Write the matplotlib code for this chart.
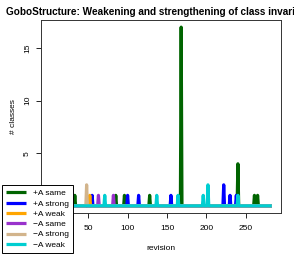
import numpy as np
import matplotlib
matplotlib.use("Agg")
import matplotlib.pyplot as plt

plt.rcParams['font.family'] = ['Liberation Sans', 'DejaVu Sans']

# revisions 1..283, most counts are zero; spikes listed as (revision, count)
n_revisions = 283
revisions = np.arange(1, n_revisions + 1)

plus_same = [(33, 1), (85, 1), (96, 1), (128, 1), (168, 17), (240, 4), (261, 1), (265, 1)]
plus_strong = [(55, 1), (100, 1), (114, 1), (155, 1), (222, 2), (230, 1), (238, 1)]
plus_weak = [(52, 1)]
minus_same = [(63, 1), (82, 1)]
minus_strong = [(48, 2)]
minus_weak = [(71, 1), (137, 1), (164, 1), (196, 1), (202, 2), (240, 1)]

labels = ["+A same", "+A strong", "+A weak", "\u2212A same", "\u2212A strong", "\u2212A weak"]
colors = ["#006400", "#0000FF", "#FFA500", "#9932CC", "#D2B48C", "#00CED1"]


def counts(spikes):
    y = np.zeros(n_revisions)
    for r, v in spikes:
        y[r - 1] = v
    return y


series = [plus_same, plus_strong, plus_weak, minus_same, minus_strong, minus_weak]

fig = plt.figure(figsize=(2.94, 2.54), dpi=100)
ax = fig.add_axes([0.1384, 0.1614, 0.8163, 0.7598])

for sp, lab, col in zip(series, labels, colors):
    ax.plot(revisions, counts(sp), color=col, lw=2.3, label=lab,
            solid_joinstyle='round', solid_capstyle='butt')

ax.set_xlim(-10.3, 294.3)
ax.set_ylim(-0.68, 17.68)
ax.set_xticks([50, 100, 150, 200, 250])
ax.set_yticks([5, 10, 15])
ax.tick_params(labelsize=6, length=3.6, width=0.6)
ax.tick_params(axis='x', pad=5)
ax.tick_params(axis='y', pad=6, labelrotation=90)
plt.setp(ax.get_yticklabels(), va='center', ha='center')
for s in ax.spines.values():
    s.set_linewidth(0.7)
    s.set_color('#333333')

ax.set_xlabel("revision", fontsize=6)
ax.set_ylabel("# classes", fontsize=6)
ax.xaxis.set_label_coords(0.5, -0.165)
ax.yaxis.set_label_coords(-0.10, 0.5)

fig.text(0.5466, 0.952, "GoboStructure: Weakening and strengthening of class invariants",
         ha='center', va='center', fontsize=7.2, fontweight='bold')

leg = fig.legend(loc='lower left', bbox_to_anchor=(2 / 294, 1 / 254),
                 fontsize=6, frameon=True, fancybox=False, borderpad=0.5,
                 handlelength=2.4, handletextpad=0.8, labelspacing=0.3,
                 borderaxespad=0)
leg.get_frame().set_edgecolor('black')
leg.get_frame().set_linewidth(0.7)
leg.get_frame().set_alpha(1)
for h in leg.get_lines():
    h.set_linewidth(2.3)

fig.savefig("out.png", dpi=100)
